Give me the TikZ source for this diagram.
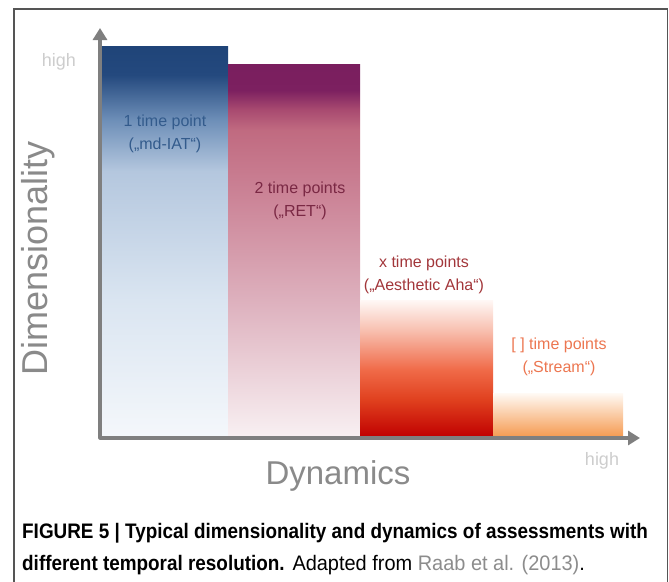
\documentclass[tikz,border=0pt]{standalone}
\usepackage{fontspec}
\setmainfont{Liberation Sans}
\newfontfamily\capfont[FakeStretch=0.9]{Liberation Sans}
\newfontfamily\capregfont[FakeStretch=0.95]{Liberation Sans}
\usetikzlibrary{arrows.meta, positioning, calc}
\usepackage{xcolor}
\definecolor{axisgray}{HTML}{7F7F7F}
\definecolor{framegray}{HTML}{555555}
\definecolor{lightgray}{HTML}{CDCDCD}
\definecolor{labelgray}{HTML}{8A8A8A}
\definecolor{refgray}{HTML}{8C8C8C}
\definecolor{bluetxt}{HTML}{335B8C}
\definecolor{purptxt}{HTML}{7A2844}
\definecolor{redtxt}{HTML}{A2363A}
\definecolor{orngtxt}{HTML}{EC7650}
\definecolor{orngA}{HTML}{FFFAF5}
\definecolor{orngC}{HTML}{F59A50}
% bar shadings (25bp = bottom of bar, 75bp = top of bar)
\pgfdeclareverticalshading{blueBar}{100bp}{
  rgb(0bp)=(0.957,0.969,0.984); rgb(25bp)=(0.957,0.969,0.984);
  rgb(42.5bp)=(0.855,0.898,0.945); rgb(59bp)=(0.706,0.780,0.871);
  rgb(65.5bp)=(0.431,0.561,0.722); rgb(71.3bp)=(0.141,0.286,0.494);
  rgb(75bp)=(0.122,0.267,0.471); rgb(100bp)=(0.122,0.267,0.471)}
\pgfdeclareverticalshading{purpBar}{100bp}{
  rgb(0bp)=(0.973,0.941,0.949); rgb(25bp)=(0.973,0.941,0.949);
  rgb(43.4bp)=(0.867,0.690,0.741); rgb(56.8bp)=(0.800,0.522,0.596);
  rgb(66.2bp)=(0.753,0.416,0.502); rgb(68.9bp)=(0.659,0.290,0.439);
  rgb(71.5bp)=(0.486,0.125,0.376); rgb(75bp)=(0.478,0.118,0.369);
  rgb(100bp)=(0.478,0.118,0.369)}
\pgfdeclareverticalshading{redBar}{100bp}{
  rgb(0bp)=(0.753,0,0); rgb(25bp)=(0.753,0,0);
  rgb(38.5bp)=(0.878,0.251,0.118); rgb(49.5bp)=(0.941,0.416,0.282);
  rgb(64bp)=(0.973,0.753,0.690); rgb(75bp)=(1,0.973,0.965);
  rgb(100bp)=(1,0.973,0.965)}

\begin{document}
\begin{tikzpicture}[x=1pt, y=-1pt,
  every node/.style={inner sep=0pt, font=\fontsize{16}{23}\selectfont},
  barlabel/.style={align=center},
  axis/.style={line width=3.2pt, draw=axisgray, line join=round,
    {Triangle[width=14pt,length=12pt]}-{Triangle[width=14pt,length=12pt]}}]
  \useasboundingbox (0,0) rectangle (669,581);
  \draw[framegray, line width=1.2pt] (14,585) -- (14,9) -- (667.5,9) -- (667.5,585);
  % bars
  \shade[shading=blueBar] (101,46) rectangle (228,437);
  \shade[shading=purpBar] (228,64) rectangle (360,437);
  \shade[shading=redBar] (360,300) rectangle (493,437);
  \shade[top color=orngA, bottom color=orngC] (493,393) rectangle (623,437);
  % axes
  \coordinate (O) at (100,438);
  \coordinate (ytop) at (100,28);
  \coordinate (xend) at (640,438);
  \draw[axis] (ytop) -- (O) -- (xend);
  \node (hiY) [text=lightgray, font=\fontsize{18}{20}\selectfont] at (59,62) {high};
  \node (hiX) [text=lightgray, font=\fontsize{18}{20}\selectfont] at (602,461) {high};
  \node (ylab) [text=labelgray, rotate=90, font=\fontsize{36}{40}\selectfont] at (38,258) {Dimensionality};
  \node (xlab) [text=labelgray, font=\fontsize{33}{40}\selectfont] at (338,476) {Dynamics};
  % labels
  \node (t1) [barlabel, text=bluetxt] at (165,134) {1 time point\\(„md-IAT“)};
  \node (t2) [barlabel, text=purptxt] at (300,201) {2 time points\\(„RET“)};
  \node (tx) [barlabel, text=redtxt] at (424,275) {x time points\\(„Aesthetic Aha“)};
  \node (ts) [barlabel, text=orngtxt] at (559,357) {[ ] time points\\(„Stream“)};
  % caption
  \node (cap1) [anchor=base west, font=\capfont\fontsize{21}{24}\selectfont\bfseries] at (22,538)
    {FIGURE 5 | Typical dimensionality and dynamics of assessments with};
  \node (cap2) [anchor=base west, font=\fontsize{21}{24}\selectfont] at (22,570)
    {{\capfont\bfseries different temporal resolution.} {\capregfont Adapted from \textcolor{refgray}{Raab et al. (2013)}.}};
\end{tikzpicture}
\end{document}
